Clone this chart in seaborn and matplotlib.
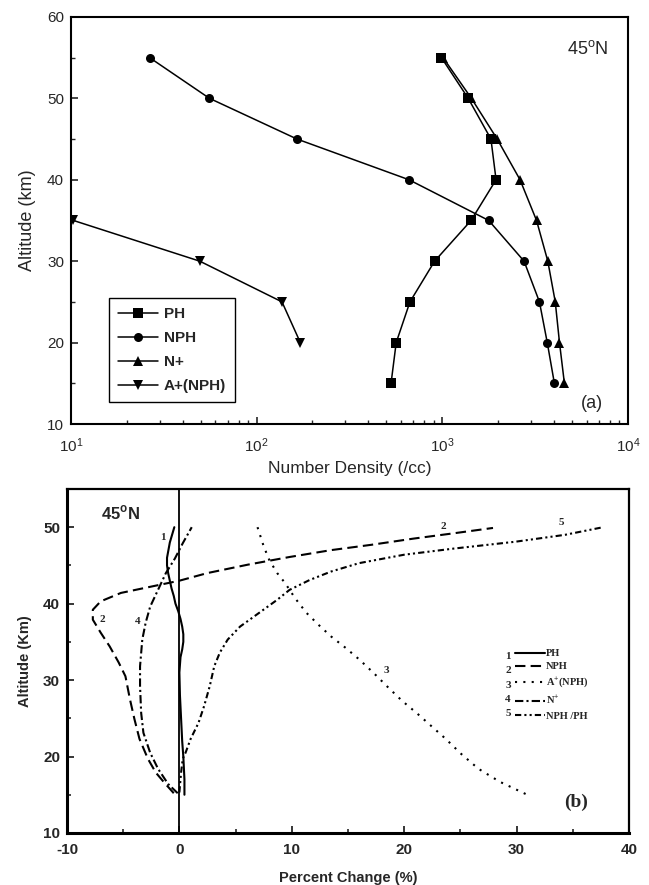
import numpy as np
import pandas as pd
import matplotlib
matplotlib.use("Agg")
import matplotlib.pyplot as plt
import seaborn as sns

# ---- data: panel (a) number density profiles ----
alt_a = [55, 50, 45, 40, 35, 30, 25, 20, 15]
ph_density = [990, 1380, 1830, 1950, 1430, 910, 670, 565, 530]
nph_density = [26.5, 55.7, 165, 662, 1780, 2760, 3340, 3680, 4020]
nplus_density = [1010, 1436, 1977, 2625, 3222, 3705, 4064, 4283, 4552]
alt_aplus = [35, 30, 25, 20]
aplus_density = [10.3, 49.4, 137, 172]

# ---- data: panel (b) percent change profiles ----
ph_alt = [50, 48, 46, 45, 44, 43, 42, 41, 40, 39, 38, 37, 36, 35, 34, 33, 31, 28, 25, 22, 20, 17, 15]
ph_pct = [-0.45, -0.85, -1.1, -1.1, -1.0, -0.85, -0.7, -0.5, -0.35, -0.1, 0.1, 0.25, 0.35, 0.35,
          0.25, 0.1, 0.0, 0.05, 0.15, 0.25, 0.35, 0.45, 0.45]

nph_alt = [15.2, 16.6, 17.9, 19.7, 22.3, 24.9, 27.5, 30.5, 32.3, 34.4, 36.2, 37.9, 39.2, 40.3,
           41.4, 42.2, 43.0, 44.0, 45.1, 46.1, 47.0, 47.7, 48.5, 49.2, 49.9]
nph_pct = [-0.5, -1.35, -2.1, -2.8, -3.55, -4.0, -4.4, -4.8, -5.4, -6.2, -7.0, -7.7, -7.7, -7.0,
           -5.2, -2.6, 0.0, 2.5, 6.1, 9.8, 13.5, 17.1, 20.8, 24.4, 27.9]

aplus_alt = [50, 47.5, 45.7, 44.0, 42.7, 40.7, 38.8, 37.2, 35.7, 34.2, 32.7, 30.9, 29.0, 27.3,
             25.7, 24.0, 22.3, 20.3, 18.4, 16.7, 15.1]
aplus_pct = [6.95, 7.5, 8.0, 8.7, 9.4, 10.3, 11.3, 12.4, 13.5, 14.8, 16.0, 17.3, 18.6, 19.8,
             21.1, 22.4, 23.7, 25.1, 26.6, 28.5, 30.8]

nplus_alt = [15.2, 16.4, 18.4, 20.5, 23.1, 25.7, 29.2, 31.8, 35.3, 37.5, 39.6, 41.8, 44.0, 45.9, 47.9, 50]
nplus_pct = [-0.15, -1.0, -1.9, -2.6, -3.2, -3.4, -3.5, -3.5, -3.3, -3.0, -2.6, -1.9, -1.2, -0.4, 0.3, 1.1]

ratio_alt = [15.3, 17.9, 19.7, 20.5, 22.3, 24.4, 26.6, 29.2, 31.8, 33.6, 35.3, 37.0, 38.8, 40.5,
             41.8, 43.1, 44.2, 45.3, 46.4, 47.2, 48.1, 49.0, 50]
ratio_pct = [0.0, 0.15, 0.3, 0.55, 1.0, 1.7, 2.2, 2.7, 3.1, 3.6, 4.3, 5.4, 7.1, 8.7,
             9.8, 11.6, 13.5, 16.0, 20.0, 24.4, 29.9, 34.3, 37.7]

sns.set_theme(style="white")
plt.rcParams["font.family"] = ["Liberation Sans", "DejaVu Sans"]
plt.rcParams["mathtext.fontset"] = "custom"
plt.rcParams["mathtext.rm"] = "Liberation Sans"
plt.rcParams["mathtext.bf"] = "Liberation Sans:bold"
plt.rcParams["axes.unicode_minus"] = False
plt.rcParams["xtick.direction"] = "in"
plt.rcParams["ytick.direction"] = "in"

fig = plt.figure(figsize=(6.49, 8.85), dpi=100)
ax1 = fig.add_axes([0.1094, 0.5209, 0.858, 0.46])
ax2 = fig.add_axes([0.1032, 0.0588, 0.866, 0.3887])

# ---------- panel (a) ----------
series_a = [
    ("PH", ph_density, alt_a, "s"),
    ("NPH", nph_density, alt_a, "o"),
    ("N+", nplus_density, alt_a, "^"),
    ("A+(NPH)", aplus_density, alt_aplus, "v"),
]
for name, xs, ys, mk in series_a:
    sns.lineplot(x=xs, y=ys, ax=ax1, sort=False, estimator=None, color="black",
                 marker=mk, markersize=6.5, markeredgewidth=0, linewidth=1.1, label=name)

ax1.set_xscale("log")
ax1.set_xlim(10, 1e4)
ax1.set_ylim(10, 60)
ax1.set_yticks([10, 20, 30, 40, 50, 60])
ax1.set_yticks([15, 25, 35, 45, 55], minor=True)
ax1.tick_params(axis="x", which="major", pad=9)
ax1.tick_params(axis="both", which="major", labelsize=11, length=5, width=1.2,
                bottom=True, left=True, top=False, right=False)
ax1.tick_params(axis="y", which="major", pad=5)
ax1.tick_params(axis="both", which="minor", length=3, width=1.0,
                bottom=True, left=True, top=False, right=False)
for s in ax1.spines.values():
    s.set_color("black")
    s.set_linewidth(1.5)
ax1.set_xlabel("Number Density (/cc)", fontsize=12.5, labelpad=4)
ax1.set_ylabel("Altitude (km)", fontsize=13, labelpad=8)
ax1.text(0.89, 0.92, r"45$^{\mathrm{o}}$N", transform=ax1.transAxes, fontsize=13,
         ha="left", va="center")
ax1.text(0.935, 0.05, "(a)", transform=ax1.transAxes, fontsize=13, ha="center", va="center")

leg = ax1.legend(loc="lower left", bbox_to_anchor=(0.068, 0.054), borderaxespad=0,
                 frameon=True, fancybox=False, framealpha=1, edgecolor="black",
                 handlelength=2.6, labelspacing=0.65, borderpad=0.6, handletextpad=0.4,
                 prop={"weight": "bold", "size": 11, "family": "Liberation Sans"})
leg.get_frame().set_linewidth(1.0)

# ---------- panel (b) ----------
series_b = [
    ("PH", ph_pct, ph_alt, "-", None),
    ("NPH", nph_pct, nph_alt, "--", (5, 2.5)),
    ("A$^{+}$(NPH)", aplus_pct, aplus_alt, ":", (1, 3)),
    ("N$^{+}$", nplus_pct, nplus_alt, "-.", (4, 1.5, 1, 1.5)),
    ("NPH /PH", ratio_pct, ratio_alt, "-.", (3, 1.5, 1, 1.5, 1, 1.5)),
]
handles = []
for name, xs, ys, ls, dash in series_b:
    sns.lineplot(x=xs, y=ys, ax=ax2, sort=False, estimator=None, color="black",
                 linewidth=1.5, label=name)
    line = ax2.get_lines()[-1]
    if dash is not None:
        line.set_dashes(dash)
    handles.append(line)

ax2.axvline(0, color="black", linewidth=1.3)
ax2.set_xlim(-10, 40)
ax2.set_ylim(10, 55)
ax2.set_xticks([-10, 0, 10, 20, 30, 40])
ax2.set_xticks([-5, 5, 15, 25, 35], minor=True)
ax2.set_yticks([10, 20, 30, 40, 50])
ax2.set_yticks([15, 25, 35, 45], minor=True)
ax2.tick_params(axis="both", which="major", labelsize=11, length=5, width=1.3,
                bottom=True, left=True, top=False, right=False)
ax2.tick_params(axis="x", which="major", pad=7)
ax2.tick_params(axis="y", which="major", pad=5)
ax2.tick_params(axis="both", which="minor", length=3, width=1.2,
                bottom=True, left=True, top=False, right=False)
for lab in ax2.get_xticklabels() + ax2.get_yticklabels():
    lab.set_fontweight("bold")
for side, lw in [("left", 2.2), ("bottom", 2.2), ("top", 1.6), ("right", 1.6)]:
    ax2.spines[side].set_color("black")
    ax2.spines[side].set_linewidth(lw)
ax2.set_xlabel("Percent Change (%)", fontsize=10.5, fontweight="bold", labelpad=10)
ax2.set_ylabel("Altitude (Km)", fontsize=10.5, fontweight="bold", labelpad=8)

ax2.text(0.06, 0.93, r"45$^{\mathbf{o}}$N", transform=ax2.transAxes, fontsize=12,
         fontweight="bold", ha="left", va="center")
ax2.text(0.905, 0.09, "(b)", transform=ax2.transAxes, fontsize=14, fontweight="bold",
         family="Liberation Serif", ha="center", va="center")

# curve number labels
serif_b = {"family": "Liberation Serif", "weight": "bold", "size": 8}
curve_tags = [("1", -1.5, 48.7), ("2", -6.9, 37.9), ("4", -3.7, 37.7),
              ("2", 23.5, 50.1), ("5", 34.0, 50.6), ("3", 18.4, 31.2)]
for tag, tx, ty in curve_tags:
    ax2.text(tx, ty, tag, fontdict=serif_b, ha="center", va="center")

leg2 = ax2.legend(handles=handles, labels=[h.get_label() for h in handles],
                  loc="upper left", bbox_to_anchor=(0.797, 0.535), borderaxespad=0,
                  frameon=False, handlelength=2.9, handletextpad=0.1, labelspacing=0.38,
                  borderpad=0, prop={"family": "Liberation Serif", "weight": "bold", "size": 7.5})
row_y = [0.514, 0.472, 0.430, 0.388, 0.346]
for i, yy in enumerate(row_y):
    ax2.text(0.785, yy, str(i + 1), transform=ax2.transAxes, fontdict=serif_b,
             ha="center", va="center")

fig.savefig("out.png", dpi=100)
